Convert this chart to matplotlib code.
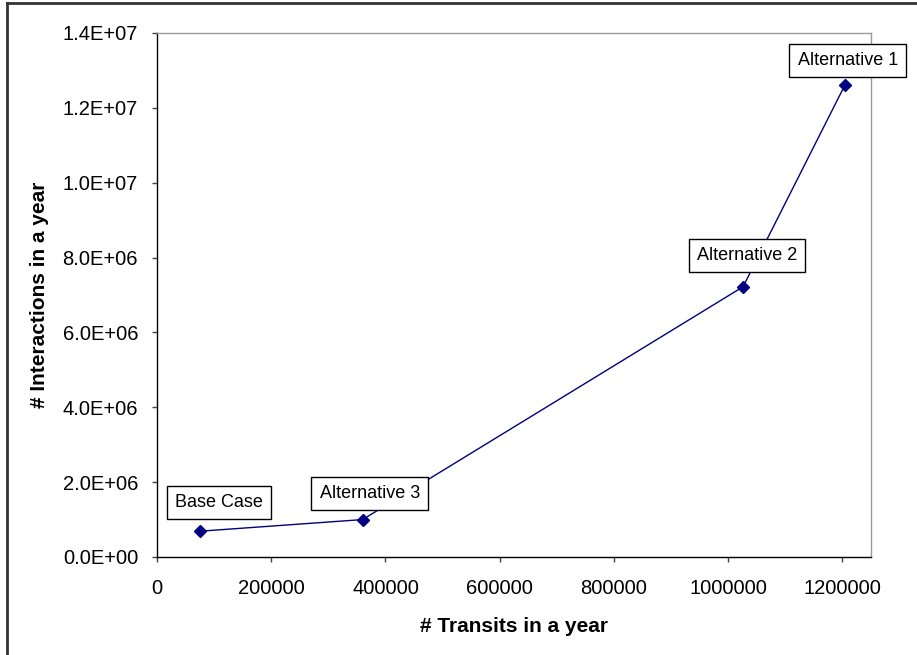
import matplotlib
matplotlib.use("Agg")
import matplotlib.pyplot as plt
from matplotlib.ticker import FuncFormatter, MultipleLocator
from matplotlib.lines import Line2D

plt.rcParams['font.family'] = ['Liberation Sans', 'DejaVu Sans']

# data
transits = [76000, 360000, 1026000, 1204000]
interactions = [0.69e6, 1.0e6, 7.22e6, 12.6e6]
names = ['Base Case', 'Alternative 3', 'Alternative 2', 'Alternative 1']
# label offsets in pixels (dx, dy) from each point
offsets = [(19, 29), (7, 26), (4, 31), (3, 25)]

fig = plt.figure(figsize=(9.17, 6.55), dpi=100)
ax = fig.add_axes([157 / 917, 1 - 557 / 655, (871 - 157) / 917, (557 - 33) / 655])

ax.plot(transits, interactions, color='#000080', linewidth=1,
        marker='D', markersize=6, markerfacecolor='#000080', markeredgecolor='#000080',
        clip_on=False, zorder=3)

for x, y, name, (dx, dy) in zip(transits, interactions, names, offsets):
    ax.annotate(name, (x, y), xytext=(dx, dy), textcoords='offset pixels',
                ha='center', va='center', fontsize=13, annotation_clip=False,
                bbox=dict(boxstyle='square,pad=0.45', facecolor='white',
                          edgecolor='black', linewidth=1),
                zorder=4)

ax.set_xlim(0, 1250000)
ax.set_ylim(0, 1.4e7)
ax.xaxis.set_major_locator(MultipleLocator(200000))
ax.yaxis.set_major_locator(MultipleLocator(2e6))
ax.xaxis.set_major_formatter(FuncFormatter(lambda v, p: f"{int(v)}"))
ax.yaxis.set_major_formatter(FuncFormatter(lambda v, p: f"{v:.1E}"))

ax.tick_params(axis='both', direction='out', length=3.6, width=1, color='#444444',
               labelsize=14.5)
ax.tick_params(axis='y', pad=10)
ax.tick_params(axis='x', pad=12)
ax.spines['left'].set_color('black')
ax.spines['bottom'].set_color('black')
ax.spines['top'].set_color('#999999')
ax.spines['right'].set_color('#999999')
for s in ax.spines.values():
    s.set_linewidth(1)

ax.set_xlabel('# Transits in a year', fontsize=15, fontweight='bold')
ax.set_ylabel('# Interactions in a year', fontsize=15, fontweight='bold')
ax.xaxis.label.set_va('baseline')
ax.yaxis.label.set_va('baseline')
ax.xaxis.set_label_coords(0.5, (557 - 632) / 524)
ax.yaxis.set_label_coords((45 - 157) / 714, 0.5)

# outer chart border (left and top visible)
fig.add_artist(Line2D([7 / 917, 7 / 917], [0, 1 - 3 / 655], transform=fig.transFigure,
                      color='#333333', linewidth=2))
fig.add_artist(Line2D([7 / 917, 1], [1 - 3 / 655, 1 - 3 / 655], transform=fig.transFigure,
                      color='#333333', linewidth=2))

fig.savefig('out.png', dpi=100)
